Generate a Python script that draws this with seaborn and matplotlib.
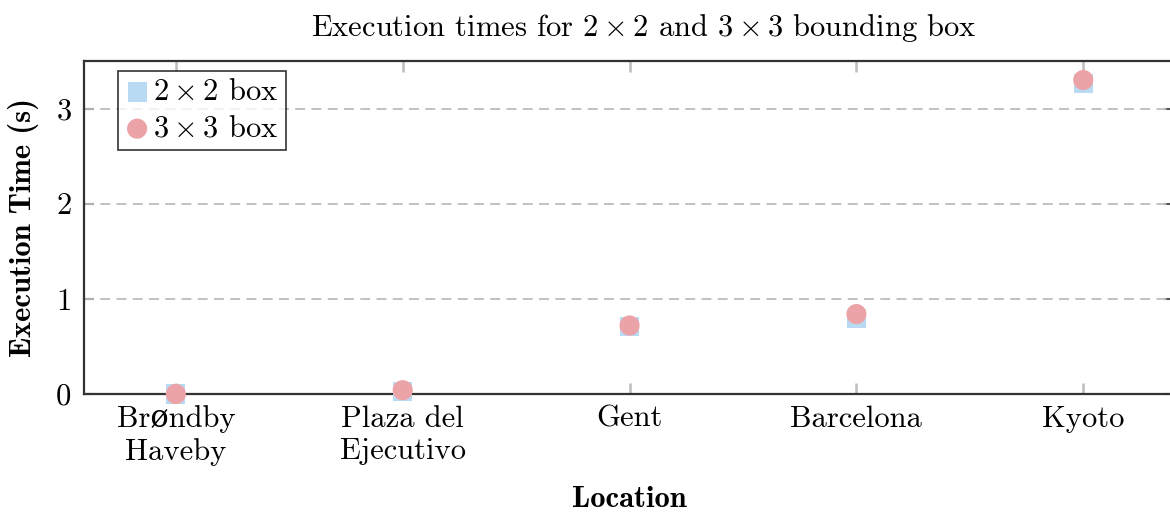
import matplotlib
matplotlib.use("Agg")
import matplotlib.pyplot as plt
import seaborn as sns
import pandas as pd

locations = ["Brøndby\nHaveby", "Plaza del\nEjecutivo", "Gent", "Barcelona", "Kyoto"]
time_2x2 = [0.00, 0.03, 0.71, 0.79, 3.26]
time_3x3 = [0.00, 0.04, 0.72, 0.84, 3.30]
y_ticks = [0, 1, 2, 3]

sns.set_theme(style="white")
plt.rcParams["font.family"] = ["cmr10", "DejaVu Serif"]
plt.rcParams["mathtext.fontset"] = "cm"
plt.rcParams["axes.formatter.use_mathtext"] = True
plt.rcParams["text.color"] = "black"
plt.rcParams["axes.labelcolor"] = "black"

df = pd.DataFrame({
    "pos": range(len(locations)),
    "t2": time_2x2,
    "t3": time_3x3,
})

fig = plt.figure(figsize=(11.70, 5.12), dpi=100)
ax = fig.add_axes([84 / 1170, 1 - 394 / 512, (1174 - 84) / 1170, (394 - 61) / 512])

blue = "#b9daf3"
pink = "#eca3a8"
sns.scatterplot(data=df, x="pos", y="t2", marker="s", s=190, color=blue,
                edgecolor="none", linewidth=0, ax=ax, label=r"$2\times2$ box",
                zorder=3, clip_on=False)
sns.scatterplot(data=df, x="pos", y="t3", marker="o", s=210, color=pink,
                edgecolor="none", linewidth=0, ax=ax, label=r"$3\times3$ box",
                zorder=4, clip_on=False)

fs = 22
ax.set_xlim(-0.405, 4.4)
ax.set_ylim(0, 3.5)
ax.set_xticks(range(len(locations)))
ax.set_xticklabels(locations, fontsize=fs, linespacing=1.25)
ax.set_yticks(y_ticks)
ax.set_yticklabels([str(v) for v in y_ticks], fontsize=fs)

ax.grid(False)
for v in y_ticks[1:]:
    ax.axhline(v, color="#bcbcbc", lw=1.3, ls=(0, (5.5, 3.5)), zorder=1)

for side in ["left", "right", "top", "bottom"]:
    ax.spines[side].set_color("#333333")
    ax.spines[side].set_linewidth(1.6)

ax.tick_params(axis="x", direction="in", length=8, width=1.8, color="#bdbdbd",
               top=True, bottom=True, pad=8, labelcolor="black")
ax.tick_params(axis="y", direction="in", length=7, width=1.5, color="#555555",
               left=True, right=True, pad=9, labelcolor="black")

ax.set_xlabel("Location", fontsize=fs, fontfamily=["cmb10", "DejaVu Serif"],
              labelpad=14, color="black")
ax.set_ylabel("Execution Time (s)", fontsize=fs, fontfamily=["cmb10", "DejaVu Serif"],
              labelpad=12, color="black")
ax.set_title(r"Execution times for $2\times2$ and $3\times3$ bounding box", fontsize=fs,
             pad=18, x=0.514, color="black")

leg = ax.legend(loc="upper left", bbox_to_anchor=(34 / 1090, 1 - 10 / 333),
                fontsize=fs, frameon=True, fancybox=False, handletextpad=0.15,
                borderpad=0.25, labelspacing=0.3, handlelength=0.75, borderaxespad=0)
leg.get_frame().set_edgecolor("black")
leg.get_frame().set_linewidth(1.2)
for t in leg.get_texts():
    t.set_color("black")

fig.savefig("out.png", dpi=100)
